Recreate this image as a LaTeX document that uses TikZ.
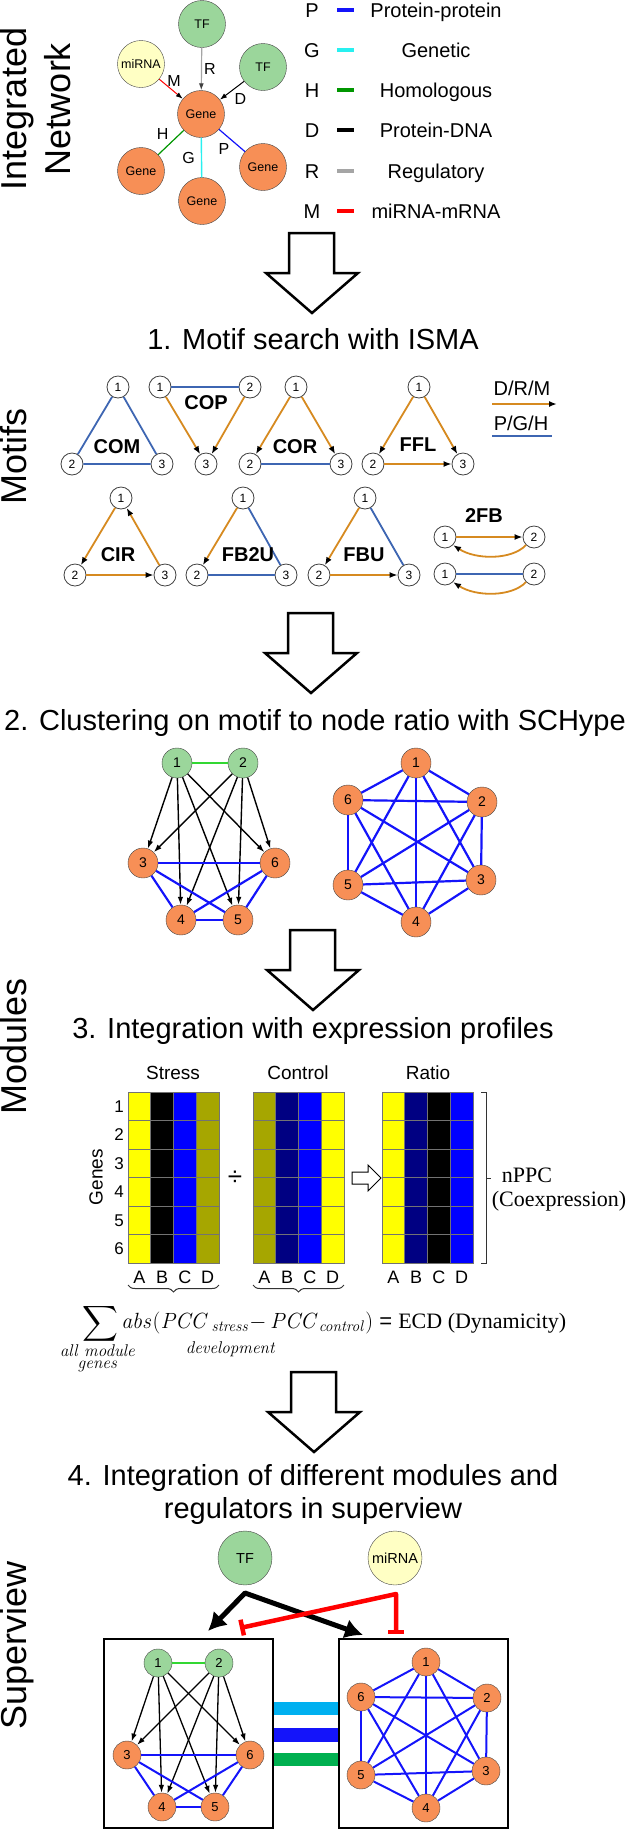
\RequirePackage{fix-cm}
\documentclass[tikz,border=0pt]{standalone}
\usepackage{amsmath}
\usepackage[no-math]{fontspec}
\setmainfont{Liberation Sans}
\newfontfamily\bookfont{Liberation Serif}
\usetikzlibrary{arrows.meta, decorations.pathreplacing}

\newcommand\pxfont[1]{\fontsize{#1}{#1}\selectfont}
% big white arrow between the steps: x of tip, y of top
\newcommand\flowarrow[2]{%
  \draw[line width=2.5, fill=white] (#1-23,#2) -- (#1+22,#2) -- (#1+22,#2+40) -- (#1+46,#2+40)
    -- (#1,#2+80) -- (#1-46,#2+40) -- (#1-23,#2+40) -- cycle;}

\definecolor{geneorange}{RGB}{247,143,86}
\definecolor{tfgreen}{RGB}{155,214,155}
\definecolor{mirnayellow}{RGB}{255,255,196}
\definecolor{nodeline}{RGB}{70,70,70}
\definecolor{motiforange}{RGB}{214,138,32}
\definecolor{motifblue}{RGB}{62,102,178}
\definecolor{netblue}{RGB}{20,20,250}
\definecolor{netgreen}{RGB}{50,215,50}
\definecolor{homgreen}{RGB}{0,150,0}
\definecolor{gencyan}{RGB}{40,240,240}
\definecolor{reggray}{RGB}{165,165,165}
\definecolor{hmyellow}{RGB}{255,255,0}
\definecolor{hmolive}{RGB}{166,166,0}
\definecolor{hmnavy}{RGB}{0,0,130}
\definecolor{hmblue}{RGB}{0,0,255}
\definecolor{barcyan}{RGB}{0,176,240}
\definecolor{bargreen}{RGB}{0,176,80}

\tikzset{
  bignode/.style={circle, draw=nodeline, minimum size=47, inner sep=0, font=\pxfont{12.5}},
  gene/.style={bignode, fill=geneorange},
  tf/.style={bignode, fill=tfgreen},
  mirna/.style={bignode, fill=mirnayellow},
  elab/.style={font=\pxfont{16}, inner sep=2, text=black},
  legtext/.style={font=\pxfont{20}, anchor=base},
  sidetitle/.style={rotate=90, anchor=base, font=\pxfont{36}},
  steptitle/.style={font=\pxfont{29}, anchor=base},
  mnode/.style={circle, draw=black!75, line width=0.8, fill=white, minimum size=22, inner sep=0, font=\pxfont{12}},
  mname/.style={font=\bfseries\pxfont{20}},
  regedge/.style={motiforange, line width=1.8, -{Latex[color=black, length=8, width=6]}},
  unedge/.style={motifblue, line width=1.8},
  cnode/.style={circle, draw=nodeline, minimum size=30, inner sep=0, font=\pxfont{14}},
  snode/.style={cnode, minimum size=28, font=\pxfont{13}},
  tfedge/.style={black, line width=1.4, -{Latex[length=8, width=5.5]}},
  ppedge/.style={netblue, line width=2.2},
  cell/.style={draw=black!55, line width=0.8},
}

\begin{document}
\begin{tikzpicture}[x=1pt, y=-1pt]
\useasboundingbox (0,0) rectangle (630,1829);

% side titles
\node[sidetitle] (sideint) at (26,109) {Integrated};
\node[sidetitle] (sidenet) at (70,109) {Network};
\node[sidetitle] (sidemot) at (26,456) {Motifs};
\node[sidetitle] (sidemod) at (26,1046) {Modules};
\node[sidetitle] (sidesup) at (26,1645) {Superview};

% integrated network
\node[tf] (tfa) at (202,24) {TF};
\node[mirna] (mir) at (141,64) {miRNA};
\node[tf] (tfb) at (263,67) {TF};
\node[gene] (hub) at (201,114) {Gene};
\node[gene] (geneh) at (141,171) {Gene};
\node[gene] (geneg) at (202,201) {Gene};
\node[gene] (genep) at (263,167) {Gene};

\draw[reggray, line width=1.2, -{Latex[color=black!75, length=7, width=5]}] (tfa) -- node[elab, right] {R} (hub);
\draw[red, line width=1, -{Latex[color=black, length=7, width=5]}] (mir) -- node[elab, above, xshift=3] {M} (hub);
\draw[black, line width=1, -{Latex[length=7, width=5]}] (tfb) -- node[elab, below right] {D} (hub);
\draw[homgreen, line width=1.2] (hub) -- node[elab, above left] {H} (geneh);
\draw[gencyan, line width=1.4] (hub) -- node[elab, left=4] {G} (geneg);
\draw[netblue, line width=1.2] (hub) -- node[elab, below left] {P} (genep);

% edge legend
\foreach \y/\l/\c/\t in {10/P/netblue/Protein-protein, 50/G/gencyan/Genetic, 90/H/homgreen/Homologous,
    130/D/black/Protein-DNA, 171/R/reggray/Regulatory, 211/M/red/miRNA-mRNA} {
  \node[legtext] (key\l) at (312,\y+7) {\l};
  \draw[\c, line width=4] (337,\y) -- (354,\y);
  \node[legtext] (name\l) at (436,\y+7) {\t};
}

\flowarrow{312}{233}
\node[steptitle] (stepa) at (313,349) {1. Motif search with ISMA};

% motifs, first row
\node[mnode] (com1) at (118,387) {1};
\node[mnode] (com2) at (72,464) {2};
\node[mnode] (com3) at (162,464) {3};
\draw[unedge] (com1) -- (com2) -- (com3) -- (com1);
\node[mname] (comname) at (117,447) {COM};

\node[mnode] (cop1) at (160,387) {1};
\node[mnode] (cop2) at (250,387) {2};
\node[mnode] (cop3) at (206,464) {3};
\draw[unedge] (cop1) -- (cop2);
\draw[regedge] (cop1) -- (cop3);
\draw[regedge] (cop2) -- (cop3);
\node[mname] (copname) at (206,403) {COP};

\node[mnode] (cor1) at (296,387) {1};
\node[mnode] (cor2) at (250,464) {2};
\node[mnode] (cor3) at (341,464) {3};
\draw[regedge] (cor1) -- (cor2);
\draw[regedge] (cor1) -- (cor3);
\draw[unedge] (cor2) -- (cor3);
\node[mname] (corname) at (295,447) {COR};

\node[mnode] (ffl1) at (419,387) {1};
\node[mnode] (ffl2) at (373,464) {2};
\node[mnode] (ffl3) at (463,464) {3};
\draw[regedge] (ffl1) -- (ffl2);
\draw[regedge] (ffl1) -- (ffl3);
\draw[regedge] (ffl2) -- (ffl3);
\node[mname] (fflname) at (418,445) {FFL};

% motif legend
\node[font=\pxfont{20}] (drm) at (522,388) {D/R/M};
\coordinate (drmA) at (492,404);
\coordinate (drmB) at (557,404);
\draw[regedge] (drmA) -- (drmB);
\node[font=\pxfont{20}] (pgh) at (521,423) {P/G/H};
\coordinate (pghA) at (492,436);
\coordinate (pghB) at (552,436);
\draw[unedge] (pghA) -- (pghB);

% motifs, second row
\node[mnode] (cir1) at (121,498) {1};
\node[mnode] (cir2) at (75,575) {2};
\node[mnode] (cir3) at (165,575) {3};
\draw[regedge] (cir1) -- (cir2);
\draw[regedge] (cir2) -- (cir3);
\draw[regedge] (cir3) -- (cir1);
\node[mname] (cirname) at (118,555) {CIR};

\node[mnode] (fbb1) at (243,498) {1};
\node[mnode] (fbb2) at (197,575) {2};
\node[mnode] (fbb3) at (286,575) {3};
\draw[regedge] (fbb1) -- (fbb2);
\draw[unedge] (fbb1) -- (fbb3);
\draw[unedge] (fbb2) -- (fbb3);
\node[mname] (fbbname) at (248,555) {FB2U};

\node[mnode] (fbu1) at (365,498) {1};
\node[mnode] (fbu2) at (319,575) {2};
\node[mnode] (fbu3) at (409,575) {3};
\draw[regedge] (fbu1) -- (fbu2);
\draw[unedge] (fbu1) -- (fbu3);
\draw[regedge] (fbu2) -- (fbu3);
\node[mname] (fbuname) at (364,555) {FBU};

\node[mname] (twoname) at (484,516) {2FB};
\node[mnode] (fba1) at (445,537) {1};
\node[mnode] (fba2) at (534,537) {2};
\draw[regedge] (fba1) -- (fba2);
\draw[regedge] (fba2.south west) .. controls (512,560) and (476,560) .. (fba1.south east);
\node[mnode] (fbc1) at (445,574) {1};
\node[mnode] (fbc2) at (534,574) {2};
\draw[unedge] (fbc1) -- (fbc2);
\draw[regedge] (fbc2.south west) .. controls (512,597) and (476,597) .. (fbc1.south east);

\flowarrow{311}{613}
\node[steptitle] (stepb) at (315,730) {2. Clustering on motif to node ratio with SCHype};

% clustered modules
\foreach \n/\x/\y/\c in {1/177/763/tfgreen, 2/243/763/tfgreen, 3/143/863/geneorange,
    6/275/863/geneorange, 4/181/920/geneorange, 5/238/920/geneorange}
  \node[cnode, fill=\c] (ma\n) at (\x,\y) {\n};
\draw[netgreen, line width=2] (ma1) -- (ma2);
\foreach \s in {1,2} \foreach \t in {3,...,6} \draw[tfedge] (ma\s) -- (ma\t);
\foreach \s/\t in {3/6,3/4,3/5,6/4,6/5,4/5} \draw[ppedge] (ma\s) -- (ma\t);

\foreach \n/\x/\y in {1/416/763, 6/348/800, 2/482/802, 5/348/885, 3/481/880, 4/416/922}
  \node[cnode, fill=geneorange] (mb\n) at (\x,\y) {\n};
\foreach \s in {1,...,6} \foreach \t in {1,...,6} {\ifnum\s<\t \draw[ppedge] (mb\s) -- (mb\t);\fi}

\flowarrow{313}{930}
\node[steptitle] (stepc) at (313,1038) {3. Integration with expression profiles};

% expression profiles
\node[font=\pxfont{19}] (stress) at (173,1073) {Stress};
\node[font=\pxfont{19}] (control) at (298,1073) {Control};
\node[font=\pxfont{19}] (ratio) at (428,1073) {Ratio};
\foreach \col [count=\ci from 0] in {hmyellow,black,hmblue,hmolive}
  \foreach \r in {0,...,5} \draw[cell, fill=\col] (128+\ci*22.75,1092+\r*28.5) rectangle ++(22.75,28.5);
\foreach \col [count=\ci from 0] in {hmolive,hmnavy,hmblue,hmyellow}
  \foreach \r in {0,...,5} \draw[cell, fill=\col] (253+\ci*22.75,1092+\r*28.5) rectangle ++(22.75,28.5);
\foreach \col [count=\ci from 0] in {hmyellow,hmnavy,black,hmblue}
  \foreach \r in {0,...,5} \draw[cell, fill=\col] (382+\ci*22.75,1092+\r*28.5) rectangle ++(22.75,28.5);
\foreach \r in {1,...,6} \node[font=\pxfont{17}, inner sep=1] (row\r) at (119,1077.75+\r*28.5) {\r};
\node[rotate=90, font=\pxfont{19}, inner sep=1] (genes) at (96,1177) {Genes};
\foreach \x/\h in {128/s, 253/c, 382/r}
  \foreach \L [count=\ci from 0] in {A,B,C,D} \node[font=\pxfont{18}] (\h\L) at (\x+11.4+\ci*22.75,1277) {\L};
\node[font=\pxfont{26}] (divide) at (235,1178) {÷};
\draw[line width=1, fill=white] (352,1172) -- (368,1172) -- (368,1165) -- (381,1178) -- (368,1191)
  -- (368,1184) -- (352,1184) -- cycle;
\draw[black!80, line width=1] (481,1092) -- (486,1092) -- (486,1263) -- (481,1263);
\draw[black!80, line width=1] (486,1178) -- (491,1178);
\node[font=\bookfont\pxfont{22}] (nppc) at (527,1175) {nPPC};
\node[font=\bookfont\pxfont{22}] (coexp) at (559,1201) {(Coexpression)};
\draw[black!80, line width=1, decorate, decoration={brace, mirror, amplitude=7}] (128,1285) -- (219,1285);
\draw[black!80, line width=1, decorate, decoration={brace, mirror, amplitude=7}] (253,1285) -- (344,1285);

% dynamicity formula
\node[font=\pxfont{27}, inner sep=0] (sigma) at (100,1324) {$\displaystyle\sum$};
\node[anchor=base west, font=\pxfont{22}, inner sep=0] (ecd) at (121,1328)
  {$\mathit{abs}(\mathit{PCC}_{\,\mathit{stress}}{-}\,\mathit{PCC}_{\mathit{control}})$ = {\bookfont ECD (Dynamicity)}};
\node[font=\pxfont{17}, inner sep=0] (devel) at (231,1349) {$\mathit{development}$};
\node[font=\pxfont{17}, inner sep=0, align=center] (allgenes) at (98,1358)
  {$\mathit{all\ module}$\\[-5pt]$\mathit{genes}$};

\flowarrow{314}{1372}
\node[steptitle] (stepd) at (313,1485) {4. Integration of different modules and};
\node[steptitle] (stepe) at (313,1518) {regulators in superview};

% superview
\node[bignode, fill=tfgreen, minimum size=54, font=\pxfont{14.5}] (suptf) at (245,1558) {TF};
\node[bignode, fill=mirnayellow, minimum size=54, font=\pxfont{14.5}] (supmir) at (395,1558) {miRNA};
\node[draw, line width=2, minimum width=169, minimum height=189, inner sep=0] (lbox) at (188.5,1733.5) {};
\node[draw, line width=2, minimum width=169, minimum height=189, inner sep=0] (rbox) at (423.5,1733.5) {};

\foreach \n/\x/\y/\c in {1/158/1663/tfgreen, 2/219/1663/tfgreen, 3/127/1755/geneorange,
    6/250/1755/geneorange, 4/162/1807/geneorange, 5/215/1807/geneorange}
  \node[snode, fill=\c] (la\n) at (\x,\y) {\n};
\draw[netgreen, line width=2] (la1) -- (la2);
\foreach \s in {1,2} \foreach \t in {3,...,6} \draw[tfedge, line width=1.3] (la\s) -- (la\t);
\foreach \s/\t in {3/6,3/4,3/5,6/4,6/5,4/5} \draw[ppedge, line width=2] (la\s) -- (la\t);

\foreach \n/\x/\y in {1/426/1662, 6/361/1697, 2/487/1698, 5/361/1775, 3/486/1771, 4/426/1808}
  \node[snode, fill=geneorange] (lb\n) at (\x,\y) {\n};
\foreach \s in {1,...,6} \foreach \t in {1,...,6} {\ifnum\s<\t \draw[ppedge, line width=2] (lb\s) -- (lb\t);\fi}

\fill[barcyan] (274,1702) rectangle (338,1715);
\fill[netblue] (274,1728) rectangle (338,1742);
\fill[bargreen] (274,1753) rectangle (338,1766);

% regulator links
\coordinate (tfsplit) at (245,1593);
\coordinate (ltarget) at (208,1631);
\coordinate (rtarget) at (363,1635);
\draw[line width=5, line join=round, {Latex[length=18, width=20]}-{Latex[length=18, width=20]}]
  (ltarget) -- (tfsplit) -- (rtarget);
\coordinate (misplit) at (396,1594);
\coordinate (lstop) at (240,1628);
\coordinate (rstop) at (396,1634);
\draw[red, line width=4.5, line join=round, {Bar[width=16]}-{Bar[width=16]}] (lstop) -- (misplit) -- (rstop);
\end{tikzpicture}
\end{document}
